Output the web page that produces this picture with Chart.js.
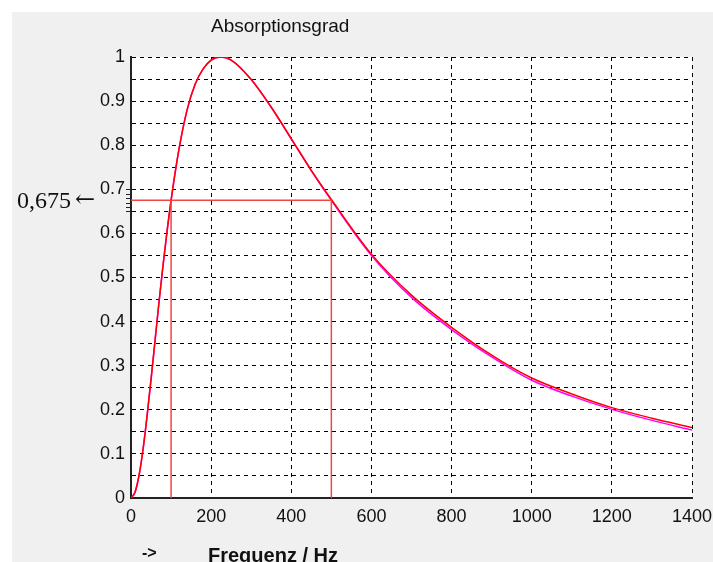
<!DOCTYPE html>
<html>
<head>
<meta charset="utf-8">
<script src="https://cdn.jsdelivr.net/npm/chart.js@4"></script>
<style>
  html, body { margin: 0; padding: 0; background: #ffffff; }
  canvas { display: block; }
</style>
</head>
<body>
<canvas id="absChart" width="713" height="562"></canvas>
<script>
// frequency in Hz
const freqs = [0, 10, 20, 30, 40, 50, 60, 70, 80, 90, 100, 120, 140, 160, 180, 200, 224, 250,
               300, 350, 400, 450, 500, 600, 700, 800, 900, 1000, 1100, 1200, 1300, 1400];
// absorption, red curve
const alphaRed = [0, 0.013, 0.051, 0.110, 0.185, 0.269, 0.357, 0.445, 0.528, 0.605, 0.675, 0.792,
                  0.880, 0.938, 0.973, 0.993, 1.0, 0.993, 0.949, 0.886, 0.815, 0.743, 0.677,
                  0.553, 0.460, 0.387, 0.324, 0.272, 0.236, 0.205, 0.181, 0.160];
// absorption, magenta curve (slightly lower in the tail)
const alphaMagenta = [0, 0.013, 0.051, 0.110, 0.185, 0.269, 0.357, 0.445, 0.528, 0.605, 0.675, 0.792,
                      0.880, 0.938, 0.973, 0.993, 1.0, 0.993, 0.949, 0.886, 0.814, 0.742, 0.675,
                      0.550, 0.455, 0.382, 0.320, 0.267, 0.231, 0.201, 0.176, 0.154];
// band edges and the level they are read at
const bandEdges = [100, 500];
const markLevel = 0.675;
const markTicks = [0.65, 0.66, 0.67, 0.68, 0.69, 0.70];

const toPoints = (ys) => freqs.map((f, i) => ({ x: f, y: ys[i] }));

const backdrop = {
    id: 'backdrop',
    beforeDraw(chart) {
        const c = chart.ctx, a = chart.chartArea;
        c.save();
        c.fillStyle = '#ffffff';
        c.fillRect(0, 0, chart.width, chart.height);
        c.fillStyle = '#f0f0f0';
        c.fillRect(12, 12, chart.width - 12, chart.height - 12);
        c.fillStyle = '#ffffff';
        c.fillRect(a.left, a.top, a.right - a.left, a.bottom - a.top);
        c.restore();
    },
    afterDraw(chart) {
        const c = chart.ctx, a = chart.chartArea, y = chart.scales.y;
        c.save();
        // little ticks round the marked level
        c.strokeStyle = '#222';
        c.lineWidth = 1;
        markTicks.forEach(v => {
            const py = Math.round(y.getPixelForValue(v)) + 0.5;
            c.beginPath();
            c.moveTo(a.left - 5, py);
            c.lineTo(a.left + 1, py);
            c.stroke();
        });
        // texts
        c.fillStyle = '#111';
        c.textBaseline = 'alphabetic';
        c.textAlign = 'left';
        c.font = '19px "Liberation Sans", Arial, sans-serif';
        c.fillText('Absorptionsgrad', 211, 32);
        c.font = 'bold 20px "Liberation Sans", Arial, sans-serif';
        c.fillText('Frequenz / Hz', 208, 562);
        c.font = 'bold 16px "Liberation Sans", Arial, sans-serif';
        c.textBaseline = 'middle';
        c.fillText('->', 142, 554);
        c.font = '24px "Liberation Serif", "Times New Roman", serif';
        c.fillText('0,675', 17, y.getPixelForValue(markLevel) + 1);
        c.font = '24px "DejaVu Serif", serif';
        c.fillText('\u2190', 75, y.getPixelForValue(markLevel));
        c.restore();
    }
};

const ctx = document.getElementById('absChart').getContext('2d');

new Chart(ctx, {
    type: 'line',
    data: {
        datasets: [
            {
                data: [{ x: 0, y: markLevel }, { x: bandEdges[1], y: markLevel }, { x: bandEdges[1], y: 0 }],
                borderColor: '#f04444',
                borderWidth: 1.5,
                pointRadius: 0
            },
            {
                data: [{ x: bandEdges[0], y: 0 }, { x: bandEdges[0], y: markLevel }],
                borderColor: '#f04444',
                borderWidth: 1.5,
                pointRadius: 0
            },
            {
                data: toPoints(alphaRed),
                borderColor: '#ff0000',
                borderWidth: 1.5,
                pointRadius: 0,
                cubicInterpolationMode: 'monotone'
            },
            {
                data: toPoints(alphaMagenta),
                borderColor: '#ff00ff',
                borderWidth: 1.5,
                pointRadius: 0,
                cubicInterpolationMode: 'monotone'
            }
        ]
    },
    plugins: [backdrop],
    options: {
        responsive: false,
        animation: false,
        layout: { padding: { top: 57, right: 21, left: 0, bottom: 0 } },
        plugins: {
            legend: { display: false },
            tooltip: { enabled: false },
            title: { display: false }
        },
        scales: {
            x: {
                type: 'linear',
                min: 0,
                max: 1400,
                afterFit: (s) => { s.height = 64; s.paddingLeft = 0; s.paddingRight = 0; },
                ticks: {
                    stepSize: 200,
                    padding: 8,
                    color: '#111',
                    font: { size: 18, family: '"Liberation Sans", Arial, sans-serif' },
                    maxRotation: 0,
                    callback: (v) => String(v)
                },
                grid: {
                    drawTicks: false,
                    color: '#000000',
                    lineWidth: 1
                },
                border: { display: true, color: '#222', width: 2, dash: [4, 4] }
            },
            y: {
                min: 0,
                max: 1,
                afterFit: (s) => { s.width = 131; s.paddingTop = 0; s.paddingBottom = 0; },
                ticks: {
                    stepSize: 0.05,
                    autoSkip: false,
                    padding: 6,
                    color: '#111',
                    font: { size: 18, family: '"Liberation Sans", Arial, sans-serif' },
                    callback: (v) => {
                        const h = Math.round(v * 100);
                        return h % 10 === 0 ? String(h / 100) : '';
                    }
                },
                grid: {
                    drawTicks: false,
                    color: '#000000',
                    lineWidth: 1
                },
                border: { display: true, color: '#222', width: 2, dash: [4, 4] }
            }
        }
    }
});
</script>
</body>
</html>
